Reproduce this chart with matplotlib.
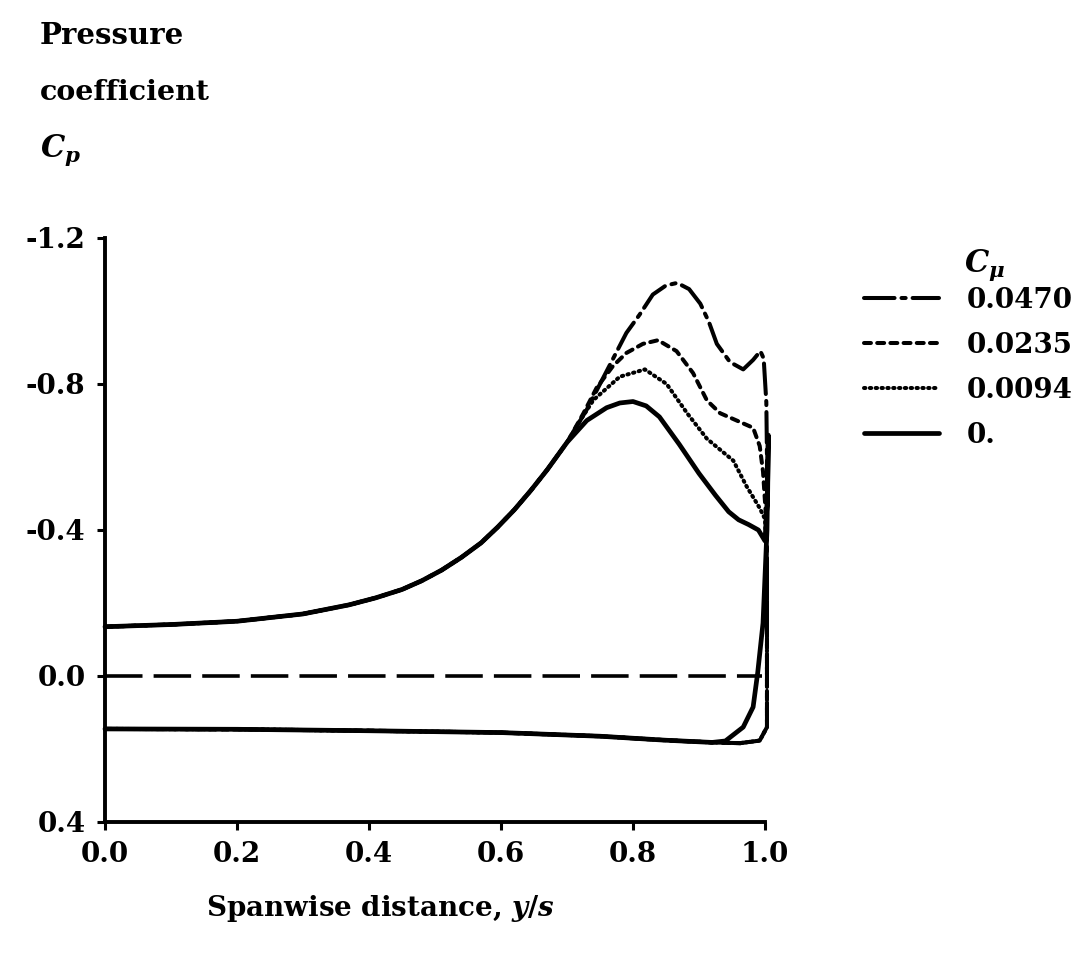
import numpy as np
import matplotlib
matplotlib.use("Agg")
import matplotlib.pyplot as plt

plt.rcParams['font.family'] = ['DejaVu Serif']
plt.rcParams['font.weight'] = 'bold'
plt.rcParams['mathtext.fontset'] = 'custom'
plt.rcParams['mathtext.rm'] = 'DejaVu Serif:bold'
plt.rcParams['mathtext.it'] = 'DejaVu Serif:italic:bold'
plt.rcParams['mathtext.bf'] = 'DejaVu Serif:bold'
plt.rcParams['lines.scale_dashes'] = False

# ---------------- data ----------------
# upper surface, shared by all blowing rates (inboard part)
upper_common_x = [0.0, 0.05, 0.1, 0.2, 0.3, 0.37, 0.41, 0.45, 0.48, 0.51, 0.54, 0.57, 0.595,
                  0.62, 0.645, 0.67, 0.70]
upper_common_cp = [-0.135, -0.138, -0.141, -0.150, -0.170, -0.195, -0.214, -0.237, -0.261, -0.29,
                   -0.325, -0.365, -0.408, -0.455, -0.508, -0.565, -0.64]

# lower surface, shared (from outboard to root)
lower_x = [0.92, 0.85, 0.75, 0.6, 0.4, 0.2, 0.0]
lower_cp = [0.182, 0.176, 0.165, 0.155, 0.15, 0.146, 0.145]

# tip return for blown cases
blown_tip_x = [1.003, 0.992, 0.962]
blown_tip_cp = [0.14, 0.177, 0.184]

# outboard upper surface per blowing rate
x_0470 = [0.73, 0.75, 0.77, 0.79, 0.81, 0.83, 0.85, 0.867, 0.885, 0.902, 0.915, 0.927,
          0.947, 0.967, 0.982, 0.993, 0.998, 1.002, 1.003]
cp_0470 = [-0.73, -0.80, -0.87, -0.94, -0.99, -1.045, -1.07, -1.077, -1.06, -1.02, -0.97, -0.91,
           -0.86, -0.84, -0.866, -0.89, -0.87, -0.75, -0.60]

x_0235 = [0.725, 0.745, 0.77, 0.79, 0.815, 0.838, 0.866, 0.891, 0.912, 0.932, 0.962, 0.982,
          0.992, 0.997, 1.001, 1.003]
cp_0235 = [-0.72, -0.79, -0.85, -0.885, -0.91, -0.92, -0.89, -0.83, -0.755, -0.72, -0.696, -0.68,
           -0.63, -0.56, -0.45, -0.30]

x_0094 = [0.72, 0.74, 0.78, 0.818, 0.851, 0.882, 0.912, 0.952, 0.972, 0.992, 1.0, 1.003]
cp_0094 = [-0.70, -0.756, -0.82, -0.84, -0.80, -0.72, -0.65, -0.59, -0.52, -0.46, -0.43, -0.30]

# no blowing: outboard upper surface, tip and return to lower surface
x_0 = [0.73, 0.76, 0.78, 0.80, 0.82, 0.84, 0.87, 0.90, 0.925, 0.945, 0.96, 0.975, 0.99, 1.0,
       1.004, 1.005, 1.003, 0.997, 0.989, 0.982, 0.967, 0.94]
cp_0 = [-0.70, -0.735, -0.748, -0.752, -0.74, -0.71, -0.635, -0.555, -0.495, -0.45, -0.428, -0.415,
        -0.40, -0.37, -0.50, -0.66, -0.40, -0.145, -0.01, 0.085, 0.14, 0.178]

labels = ['0.0470', '0.0235', '0.0094', '0.']
x_ticks = [0.0, 0.2, 0.4, 0.6, 0.8, 1.0]
x_ticklabels = ['0.0', '0.2', '0.4', '0.6', '0.8', '1.0']
y_ticks = [-1.2, -0.8, -0.4, 0.0, 0.4]
y_ticklabels = ['-1.2', '-0.8', '-0.4', '0.0', '0.4']

# ---------------- figure ----------------
W, H = 1081, 960
fig = plt.figure(figsize=(W / 100, H / 100), dpi=100)
ax = fig.add_axes([105 / W, 1 - 822 / H, (765 - 105) / W, (822 - 238) / H])

def blown(xo, co):
    xs = upper_common_x + xo + blown_tip_x + lower_x
    cs = upper_common_cp + co + blown_tip_cp + lower_cp
    return xs, cs

xs, cs = blown(x_0470, cp_0470)
l1, = ax.plot(xs, cs, color='black', lw=2.9, dashes=[22, 5, 3, 5], dash_capstyle='round',
              clip_on=False, solid_joinstyle='round')
xs, cs = blown(x_0235, cp_0235)
l2, = ax.plot(xs, cs, color='black', lw=2.9, dashes=[5, 4.5], dash_capstyle='round', clip_on=False)
xs, cs = blown(x_0094, cp_0094)
l3, = ax.plot(xs, cs, color='black', lw=2.9, dashes=[1.0, 3.2], dash_capstyle='round', clip_on=False)
xs = upper_common_x + x_0 + lower_x
cs = upper_common_cp + cp_0 + lower_cp
l4, = ax.plot(xs, cs, color='black', lw=3.4, solid_capstyle='round', solid_joinstyle='round',
              clip_on=False)

# zero reference line
ax.plot([0.0, 0.995], [0.0, 0.0], color='black', lw=2.6, dashes=[27, 8], clip_on=False)

ax.set_xlim(0.0, 1.0)
ax.set_ylim(0.4, -1.2)
for s in ['top', 'right']:
    ax.spines[s].set_visible(False)
for s in ['left', 'bottom']:
    ax.spines[s].set_linewidth(2.8)
ax.set_xticks(x_ticks)
ax.set_xticklabels(x_ticklabels)
ax.set_yticks(y_ticks)
ax.set_yticklabels(y_ticklabels)
ax.tick_params(axis='both', direction='out', length=6, width=2.2, labelsize=20, pad=8)
for t in ax.get_xticklabels() + ax.get_yticklabels():
    t.set_fontweight('bold')

fig.text(380 / W, 1 - 908 / H, 'Spanwise distance, $y/s$', fontsize=20, fontweight='bold',
         ha='center', va='center')

fig.text(40 / W, 1 - 35 / H, 'Pressure', fontsize=21, fontweight='bold', ha='left', va='center')
fig.text(40 / W, 1 - 92 / H, 'coefficient', fontsize=20.5, fontweight='bold', ha='left', va='center')
fig.text(40 / W, 1 - 150 / H, '$C_p$', fontsize=22, ha='left', va='center')

fig.text(985 / W, 1 - 265 / H, '$C_\\mu$', fontsize=22, ha='center', va='center')
leg = fig.legend([l1, l2, l3, l4], labels, loc='upper left',
                 bbox_to_anchor=(850 / W, 1 - 273 / H), frameon=False, fontsize=20,
                 handlelength=2.7, handletextpad=1.0, labelspacing=0.65, borderpad=0)
for t in leg.get_texts():
    t.set_fontweight('bold')

fig.savefig('out.png', dpi=100)
